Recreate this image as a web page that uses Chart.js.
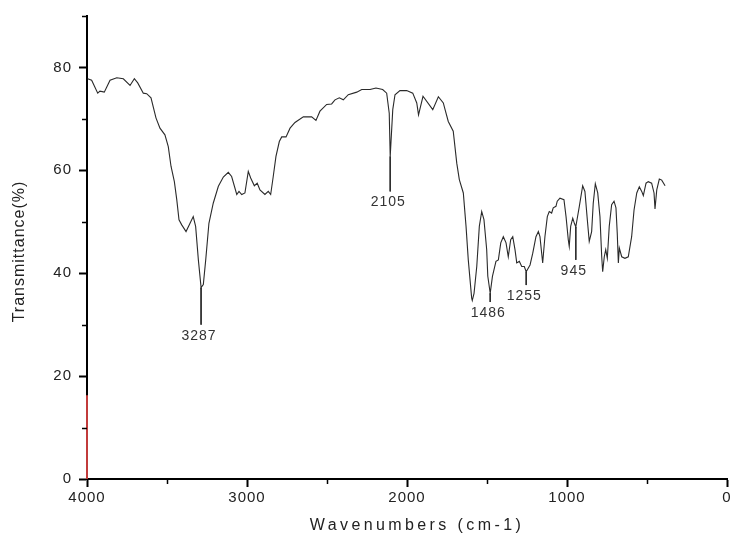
<!DOCTYPE html>
<html>
<head>
<meta charset="utf-8">
<script src="https://cdn.jsdelivr.net/npm/chart.js@4.4.1/dist/chart.umd.min.js"></script>
<style>
    html, body { margin: 0; padding: 0; background: #fff; }
    #wrap { width: 734px; height: 536px; }
</style>
</head>
<body>
<div id="wrap"><canvas id="irChart"></canvas></div>
<script>
// IR spectrum: wavenumber (cm-1) and transmittance (%)
const wavenumbers = [
    3996, 3971, 3933, 3919, 3892, 3856, 3814, 3773, 3731, 3704, 3683, 3648, 3627, 3600,
    3569, 3544, 3513, 3492, 3475, 3454, 3439, 3425, 3408, 3381, 3356, 3336, 3321, 3304, 3287, 3273, 3258, 3238, 3211, 3179, 3148, 3117, 3096, 3064, 3050, 3033, 3013,
    2992, 2977, 2954, 2936, 2919, 2888, 2867, 2852, 2836, 2819, 2798, 2783, 2756, 2731, 2700, 2648, 2596, 2569, 2544, 2502, 2471, 2450, 2423, 2398, 2367, 2314, 2283, 2231, 2194, 2152,
    2127, 2111, 2105, 2089, 2075, 2044, 2002, 1964, 1939, 1928, 1900, 1839, 1804, 1773, 1762, 1742, 1711, 1689, 1673, 1648, 1631, 1617,
    1596, 1592, 1581, 1564, 1548, 1533, 1519, 1502, 1495, 1480, 1466, 1444, 1429, 1414, 1398, 1381, 1367, 1352, 1339, 1325, 1314, 1298, 1283, 1267,
    1255, 1231, 1214, 1194, 1179, 1169, 1152, 1138, 1123, 1111, 1096, 1086, 1069, 1061, 1044, 1019,
    1006, 992, 986, 977, 964, 954, 945, 939, 923, 902, 888, 873, 861, 846, 836, 823, 808, 794, 783, 777, 767, 758, 748, 736, 721, 706,
    694, 686, 679, 673, 658, 638, 617, 596, 581, 564, 548, 533, 523, 506, 492, 471, 456, 450, 439, 423, 408, 387
];
const transmittance = [
    77.8, 77.5, 75.0, 75.4, 75.2, 77.5, 78.0, 77.8, 76.5, 77.8, 77.0, 75.0, 74.9, 74.1,
    70.2, 68.2, 66.9, 64.6, 60.8, 57.8, 54.3, 50.4, 49.4, 48.1, 49.7, 51.0, 49.1, 42.6, 37.2, 37.8, 42.6, 49.7, 53.6, 56.9, 58.7, 59.6, 58.8, 55.3, 55.9, 55.3, 55.6,
    59.8, 58.5, 57.0, 57.5, 56.2, 55.3, 55.9, 55.3, 58.8, 62.7, 65.6, 66.5, 66.5, 68.2, 69.3, 70.4, 70.4, 69.7, 71.5, 72.8, 72.9, 73.7, 74.1, 73.7, 74.7, 75.2, 75.7, 75.7, 76.0, 75.7,
    75.0, 71.1, 62.7, 71.8, 74.7, 75.5, 75.5, 75.0, 73.1, 70.8, 74.4, 71.8, 74.3, 73.1, 71.8, 69.5, 67.6, 61.4, 58.2, 55.6, 49.1, 42.6,
    35.2, 34.7, 36.1, 41.3, 49.1, 52.0, 50.4, 44.6, 39.4, 36.1, 39.4, 42.3, 42.6, 45.9, 47.1, 45.9, 43.2, 46.5, 47.1, 44.6, 42.0, 42.3, 41.3, 41.3,
    40.3, 41.6, 43.9, 47.1, 48.1, 47.1, 42.0, 47.1, 51.0, 52.0, 51.7, 52.7, 53.0, 54.0, 54.6, 54.3,
    51.0, 46.5, 45.2, 49.1, 50.7, 49.7, 49.0, 50.1, 53.0, 57.0, 55.9, 50.4, 46.2, 48.1, 53.6, 57.4, 55.6, 51.0, 43.2, 40.3, 43.2, 44.6, 42.9, 49.1, 53.3, 54.0,
    52.7, 47.8, 42.0, 44.9, 43.2, 42.9, 43.2, 47.1, 52.3, 55.6, 56.8, 55.9, 55.1, 57.5, 57.8, 57.5, 55.6, 52.5, 56.2, 58.3, 58.1, 57.0
];

// Labelled peaks: text, where the leader sits, and where it starts / ends (transmittance)
const peakLabels = ["3287", "2105", "1486", "1255", "945"];
const peakWavenumbers = [3287, 2105, 1480, 1255, 945];
const peakTop = [37.2, 62.7, 36.1, 40.3, 49.0];
const peakLeaderEnd = [30.0, 55.9, 34.4, 37.7, 42.6];

// Red marker on the left axis
const markerWavenumber = 4000;
const markerRange = [0, 16.3];

const xAxisTitle = "Wavenumbers (cm-1)";
const yAxisTitle = "Transmittance(%)";

const spectrum = wavenumbers.map((w, i) => ({ x: w, y: transmittance[i] }));
const leaders = [];
peakWavenumbers.forEach((w, i) => {
    leaders.push({ x: w, y: peakTop[i] }, { x: w, y: peakLeaderEnd[i] }, { x: w, y: null });
});
const marker = markerRange.map(v => ({ x: markerWavenumber, y: v }));

const FONT = '"Liberation Sans", Arial, sans-serif';

// Minor tick values halfway between the labelled ones
function minorValues(scale) {
    const vals = scale.ticks.map(t => t.value);
    const step = Math.abs(vals[1] - vals[0]);
    const out = [];
    for (let v = Math.min(...vals) + step / 2; v <= scale.max; v += step) out.push(v);
    return out;
}

// Minor ticks, peak labels and spaced-out axis titles
const decorPlugin = {
    id: "decor",
    beforeDraw(chart) {
        chart.ctx.letterSpacing = "1px";
    },
    afterDraw(chart) {
        const { ctx, chartArea, scales: { x, y } } = chart;
        ctx.save();
        ctx.strokeStyle = "#000";
        ctx.lineWidth = 1.5;
        ctx.beginPath();
        minorValues(x).forEach(v => {
            const px = Math.round(x.getPixelForValue(v)) + 0.5;
            ctx.moveTo(px, chartArea.bottom);
            ctx.lineTo(px, chartArea.bottom + 5);
        });
        minorValues(y).forEach(v => {
            const py = Math.round(y.getPixelForValue(v)) + 0.5;
            ctx.moveTo(chartArea.left, py);
            ctx.lineTo(chartArea.left - 5, py);
        });
        ctx.stroke();

        ctx.fillStyle = "#333";
        ctx.font = "14px " + FONT;
        ctx.textAlign = "center";
        ctx.textBaseline = "top";
        peakLabels.forEach((t, i) => {
            ctx.fillText(t, x.getPixelForValue(peakWavenumbers[i]) - 2,
                y.getPixelForValue(peakLeaderEnd[i]) + 4);
        });

        ctx.fillStyle = "#222";
        ctx.font = "16px " + FONT;
        ctx.textBaseline = "middle";
        ctx.letterSpacing = "3.4px";
        ctx.fillText(xAxisTitle, (chartArea.left + chartArea.right) / 2 + 10, 526);
        ctx.letterSpacing = "1px";
        ctx.translate(20, (chartArea.top + chartArea.bottom) / 2 + 4);
        ctx.rotate(-Math.PI / 2);
        ctx.fillText(yAxisTitle, 0, 0);
        ctx.restore();
    }
};

new Chart(document.getElementById("irChart"), {
    type: "line",
    data: {
        datasets: [
            {
                data: spectrum,
                borderColor: "#2a2a2a",
                borderWidth: 1.1,
                pointRadius: 0,
                tension: 0
            },
            {
                data: leaders,
                borderColor: "#2a2a2a",
                borderWidth: 1,
                pointRadius: 0,
                spanGaps: false
            },
            {
                data: marker,
                borderColor: "#c23b3b",
                borderWidth: 2,
                pointRadius: 0,
                clip: false
            }
        ]
    },
    options: {
        responsive: true,
        maintainAspectRatio: false,
        animation: false,
        layout: { padding: { top: 15, right: 7, left: 0, bottom: 0 } },
        plugins: {
            legend: { display: false },
            tooltip: { enabled: false }
        },
        scales: {
            x: {
                type: "linear",
                reverse: true,
                min: 0,
                max: 4000,
                afterFit(scale) { scale.height = 57; },
                grid: { drawOnChartArea: false, drawTicks: true, tickLength: 8, tickColor: "#000", tickWidth: 2 },
                border: { display: true, color: "#000", width: 2 },
                ticks: {
                    stepSize: 1000,
                    includeBounds: false,
                    maxRotation: 0,
                    padding: 2,
                    color: "#222",
                    font: { size: 15, family: FONT },
                    callback: v => String(v)
                }
            },
            y: {
                min: 0,
                max: 90,
                afterFit(scale) { scale.width = 87; },
                grid: { drawOnChartArea: false, drawTicks: true, tickLength: 8, tickColor: "#000", tickWidth: 2 },
                border: { display: true, color: "#000", width: 2 },
                ticks: {
                    stepSize: 20,
                    includeBounds: false,
                    padding: 7,
                    color: "#222",
                    font: { size: 15, family: FONT },
                    callback: v => String(v)
                }
            }
        }
    },
    plugins: [decorPlugin]
});
</script>
</body>
</html>
